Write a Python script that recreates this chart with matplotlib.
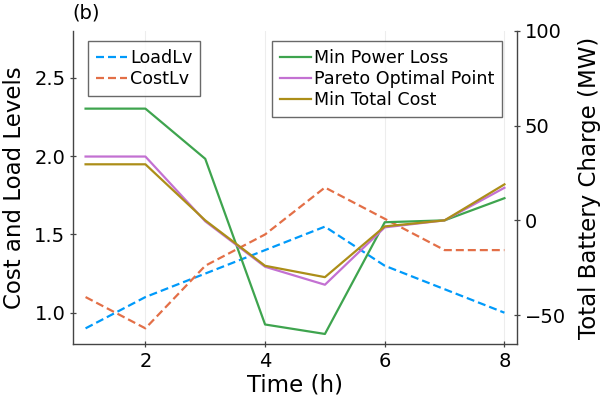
import numpy as np
import matplotlib
matplotlib.use('Agg')
import matplotlib.pyplot as plt

hours = [1, 2, 3, 4, 5, 6, 7, 8]
load_lv = [0.9, 1.1, 1.25, 1.4, 1.55, 1.3, 1.15, 1.0]
cost_lv = [1.1, 0.9, 1.3, 1.5, 1.8, 1.6, 1.4, 1.4]
min_loss = [59, 59, 32.5, -55, -60, -1, 0, 11.7]
pareto = [33.7, 33.7, -0.5, -24.5, -34, -3.7, 0, 17.2]
min_cost = [29.6, 29.6, 0, -24, -30, -3.2, 0, 19]

c_blue, c_orange = '#009AFA', '#E36F47'
c_green, c_purple, c_gold = '#3EA44E', '#C371D2', '#AC8E18'
spine_c = '#444444'

plt.rcParams['font.family'] = 'DejaVu Sans'
fig = plt.figure(figsize=(6, 4), dpi=100)
ax = fig.add_axes([73/600, 1-344/400, (517-73)/600, (344-31)/400])
ax2 = ax.twinx()

dash = (0, (3.6, 1.8))
l1, = ax.plot(hours, load_lv, color=c_blue, lw=1.6, ls=dash, label='LoadLv')
l2, = ax.plot(hours, cost_lv, color=c_orange, lw=1.6, ls=dash, label='CostLv')
r1, = ax2.plot(hours, min_loss, color=c_green, lw=1.6, label='Min Power Loss')
r2, = ax2.plot(hours, pareto, color=c_purple, lw=1.6, label='Pareto Optimal Point')
r3, = ax2.plot(hours, min_cost, color=c_gold, lw=1.6, label='Min Total Cost')

ax.set_xlim(0.79, 8.21)
ax.set_ylim(0.8, 2.8)
ax2.set_ylim(-65.3, 100)
ax.set_xticks([2, 4, 6, 8])
ax.set_yticks([1.0, 1.5, 2.0, 2.5])
ax2.set_yticks([-50, 0, 50, 100])
ax.set_yticklabels(['1.0', '1.5', '2.0', '2.5'])
ax2.set_yticklabels(['\u221250', '0', '50', '100'])
ax.grid(axis='x', color='#ededed', lw=0.8)
ax.set_axisbelow(True)

for s in ['top', 'right']:
    ax.spines[s].set_visible(False)
for s in ['top', 'left', 'bottom']:
    ax2.spines[s].set_visible(False)
for a in (ax, ax2):
    for s in a.spines.values():
        s.set_color(spine_c)
        s.set_linewidth(1.0)
    a.tick_params(labelsize=14, direction='inout', length=5, width=0.9, color=spine_c, pad=3)

ax.set_xlabel('Time (h)', fontsize=16.5, labelpad=2)
ax.set_ylabel('Cost and Load Levels', fontsize=16.5, labelpad=6)
ax2.set_ylabel('Total Battery Charge (MW)', fontsize=16.5, labelpad=9)

fig.text(72/600, 1-13/400, '(b)', fontsize=14, va='center', ha='left')

leg_kw = dict(fontsize=12.6, frameon=True, fancybox=False, edgecolor=spine_c,
              handlelength=1.8, handletextpad=0.15, borderpad=0.45,
              labelspacing=0.18, borderaxespad=0)
lg1 = ax.legend(handles=[l1, l2], loc='upper left',
                bbox_to_anchor=(88/600, 1-41/400), bbox_transform=fig.transFigure, **leg_kw)
lg1.get_frame().set_linewidth(1.0)
lg2 = ax2.legend(handles=[r1, r2, r3], loc='upper right',
                 bbox_to_anchor=(502/600, 1-41/400), bbox_transform=fig.transFigure, **leg_kw)
lg2.get_frame().set_linewidth(1.0)

fig.savefig('out.png', dpi=100)
